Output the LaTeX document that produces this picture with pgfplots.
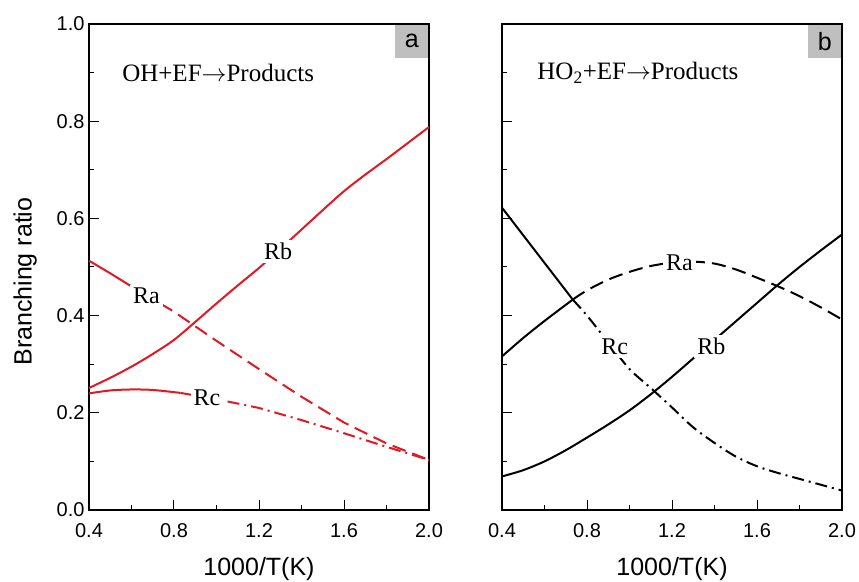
\documentclass[border=0pt]{standalone}
\usepackage{fontspec}
\setmainfont{Liberation Serif}
\setsansfont{Liberation Sans}
\usepackage{pgfplots}
\pgfplotsset{compat=1.18}
\definecolor{myred}{RGB}{225,25,35}
\tikzset{
 lab/.style={fill=white, inner sep=3pt, font=\fontsize{24}{24}\selectfont},
 tag/.style={fill=gray!50, anchor=north east, minimum width=33pt, minimum height=33pt, inner sep=0pt, font=\fontsize{25}{25}\sffamily, xshift=-0.6pt, yshift=-0.6pt},
 dsh/.style={dash pattern=on 14pt off 7pt},
 dd/.style={dash pattern=on 12pt off 5pt on 2pt off 5pt},
}
\begin{document}
\begin{tikzpicture}
\useasboundingbox (-89pt,-71pt) rectangle (770pt,510pt);
\pgfplotsset{
 myaxis/.style={
  scale only axis, width=340pt, height=486pt,
  xmin=0.4,xmax=2.0,ymin=0,ymax=1,
  xtick={0.4,0.8,1.2,1.6,2.0}, minor xtick={0.6,1.0,1.4,1.8},
  ytick={0,0.2,0.4,0.6,0.8,1.0}, minor ytick={0.1,0.3,0.5,0.7,0.9},
  tick align=inside, xtick pos=bottom, ytick pos=left,
  major tick length=10pt, minor tick length=5pt,
  every tick/.style={black, line width=1pt},
  axis line style={line width=1.3pt},
  tick label style={font=\fontsize{20}{20}\selectfont\sffamily},
  xticklabel style={yshift=-10pt},
  yticklabel style={xshift=-1pt},
  /pgf/number format/assume math mode=true,
  /pgf/number format/fixed, /pgf/number format/fixed zerofill, /pgf/number format/precision=1,
  xlabel={1000/T(K)},
  label style={font=\fontsize{25}{25}\selectfont\sffamily},
  xlabel style={at={(axis description cs:0.5,-0.121)},anchor=center},
  clip=false,
 },
}
% Panel a
\begin{axis}[myaxis, ylabel={Branching ratio},
  ylabel style={at={(axis description cs:-0.188,0.47)},anchor=center}]
\addplot[myred, line width=2pt, smooth] coordinates {
 (0.4,0.251) (0.5,0.272) (0.6,0.295) (0.7,0.321) (0.8,0.350) (0.9,0.387) (1.0,0.425) (1.1,0.462) (1.2,0.498) (1.3,0.537) (1.4,0.577) (1.5,0.617) (1.6,0.656) (1.7,0.690) (1.8,0.722) (1.9,0.755) (2.0,0.788)};
\addplot[myred, line width=2pt] coordinates {
 (0.4,0.513) (0.5,0.487) (0.6,0.460) (0.65,0.447)};
\addplot[myred, line width=2pt, dsh] coordinates {
 (0.65,0.447) (0.8,0.408) (1.0,0.348) (1.2,0.290) (1.4,0.233) (1.6,0.180) (1.8,0.137) (2.0,0.103)};
\addplot[myred, line width=2pt, smooth] coordinates {
 (0.4,0.240) (0.5,0.246) (0.6,0.248) (0.7,0.247) (0.83,0.241)};
\addplot[myred, line width=2pt, dd] coordinates {
 (0.83,0.241) (1.0,0.228) (1.2,0.210) (1.4,0.185) (1.6,0.158) (1.8,0.130) (2.0,0.103)};
\node[lab] at (axis cs:0.67,0.44) {Ra};
\node[lab] at (axis cs:1.29,0.532) {Rb};
\node[lab] at (axis cs:0.955,0.230) {Rc};
\node[anchor=west, font=\fontsize{25}{25}\selectfont] at (axis cs:0.54,0.90) {OH+EF$\rightarrow$Products};
\node[tag] at (rel axis cs:1,1) {a};
\end{axis}
% Panel b
\begin{axis}[myaxis, at={(413pt,0pt)}, yticklabel=\empty]
\addplot[black, line width=2pt, smooth] coordinates {
 (0.4,0.069) (0.5,0.082) (0.6,0.100) (0.7,0.123) (0.8,0.149) (0.9,0.176) (1.0,0.205) (1.1,0.238) (1.2,0.274) (1.3,0.312) (1.4,0.350) (1.5,0.388) (1.6,0.426) (1.7,0.464) (1.8,0.500) (1.9,0.534) (2.0,0.567)};
\addplot[black, line width=2pt, smooth] coordinates {
 (0.4,0.316) (0.5,0.354) (0.6,0.389) (0.733,0.433)};
\addplot[black, line width=2pt, dsh, smooth] coordinates {
 (0.733,0.433) (0.8,0.452) (0.9,0.474) (1.0,0.490) (1.1,0.502) (1.2,0.509) (1.3,0.511) (1.4,0.507) (1.5,0.495) (1.6,0.478) (1.7,0.460) (1.8,0.440) (1.9,0.417) (2.0,0.392)};
\addplot[black, line width=2pt] coordinates {
 (0.4,0.622) (0.733,0.433)};
\addplot[black, line width=2pt, dd, smooth] coordinates {
 (0.733,0.433) (0.8,0.400) (0.9,0.345) (1.0,0.290) (1.1,0.251) (1.2,0.211) (1.3,0.170) (1.4,0.138) (1.5,0.110) (1.6,0.090) (1.7,0.076) (1.8,0.064) (1.9,0.052) (2.0,0.040)};
\node[lab] at (axis cs:1.235,0.509) {Ra};
\node[lab] at (axis cs:1.385,0.336) {Rb};
\node[lab] at (axis cs:0.93,0.336) {Rc};
\node[anchor=west, font=\fontsize{25}{25}\selectfont] at (axis cs:0.55,0.90) {HO\textsubscript{2}+EF$\rightarrow$Products};
\node[tag] at (rel axis cs:1,1) {b};
\end{axis}
\end{tikzpicture}
\end{document}
